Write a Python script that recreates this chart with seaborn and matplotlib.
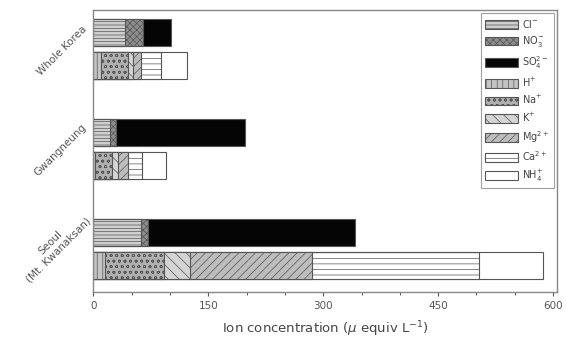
import pandas as pd
import matplotlib
matplotlib.use("Agg")
import matplotlib.pyplot as plt
import matplotlib.transforms as mtransforms
import seaborn as sns
from matplotlib.patches import Patch

# ion balance per site (ueq/L)
sites = ["Whole Korea", "Gwangneung", "Seoul\n(Mt. Kwanaksan)"]

cl = [41, 22, 62]
no3 = [24, 7, 9]
so4 = [36, 169, 270]

h = [10, 2, 15]
na = [35, 22, 77]
k = [7, 8, 34]
mg = [10, 13, 159]
ca = [26, 18, 218]
nh4 = [34, 32, 84]

anion_ions = {"Cl": cl, "NO3": no3, "SO4": so4}
cation_ions = {"H": h, "Na": na, "K": k, "Mg": mg, "Ca": ca, "NH4": nh4}

labels = {
    "Cl": r"Cl$^{-}$", "NO3": r"NO$_3^{-}$", "SO4": r"SO$_4^{2-}$",
    "H": r"H$^{+}$", "Na": r"Na$^{+}$", "K": r"K$^{+}$",
    "Mg": r"Mg$^{2+}$", "Ca": r"Ca$^{2+}$", "NH4": r"NH$_4^{+}$",
}
styles = {
    "Cl":  ("#cfcfcf", "-----"),
    "NO3": ("#8c8c8c", "xxxxx"),
    "SO4": ("#050505", ""),
    "H":   ("#c4c4c4", "|||"),
    "Na":  ("#b0b0b0", "ooo"),
    "K":   ("#d4d4d4", "\\\\\\"),
    "Mg":  ("#bdbdbd", "////"),
    "Ca":  ("#ffffff", "---"),
    "NH4": ("#ffffff", ""),
}

rows = []
for kind, ions in [("anion", anion_ions), ("cation", cation_ions)]:
    for i, site in enumerate(sites):
        total = 0
        for ion, vals in ions.items():
            total += vals[i]
            rows.append({"site": site, "kind": kind, "ion": ion, "cum": total})
df = pd.DataFrame(rows)

plt.rcParams["hatch.linewidth"] = 0.5
plt.rcParams["font.family"] = ["DejaVu Sans"]

fig = plt.figure(figsize=(5.66, 3.42), dpi=100)
ax = fig.add_axes([0.165, 0.146, 0.819, 0.825])

# stacked bars: draw cumulative totals from the outermost ion inwards
for kind, ions in [("anion", anion_ions), ("cation", cation_ions)]:
    for ion in reversed(list(ions)):
        color, hatch = styles[ion]
        n_before = len(ax.patches)
        sns.barplot(
            data=df[(df.kind == kind) & (df.ion == ion)],
            y="site", x="cum", hue="kind", hue_order=["anion", "cation"],
            order=sites, orient="h", dodge=True, width=0.65, gap=0.17,
            palette={"anion": color, "cation": color}, saturation=1,
            errorbar=None, legend=False, ax=ax,
            edgecolor="#555555", linewidth=0.8,
        )
        for p in ax.patches[n_before:]:
            p.set_hatch(hatch)

ax.set_xlim(0, 605)
ax.set_ylim(2.43, -0.39)
ax.set_xticks([0, 150, 300, 450, 600])
ax.set_xticks(range(50, 600, 50), minor=True)
ax.tick_params(axis="x", colors="#555555", labelsize=7.5, length=3, width=0.8)
ax.tick_params(axis="x", which="minor", length=2, width=0.7, color="#555555")
ax.tick_params(axis="y", colors="#555555", labelsize=7.5, length=0, pad=6)
ax.set_yticks(range(len(sites)))
ax.set_yticklabels(sites, rotation=45, ha="right", va="center",
                   rotation_mode="anchor", multialignment="center")
# labels sit a bit above the bar pair in the original
for lab, dy in zip(ax.get_yticklabels(), [15, 17, 24]):
    lab.set_transform(lab.get_transform() +
                      mtransforms.ScaledTranslation(0, dy / 72, fig.dpi_scale_trans))
ax.set_ylabel("")
ax.set_xlabel(r"Ion concentration ($\mu$ equiv L$^{-1}$)", fontsize=9.5,
              color="#444444", labelpad=6)
for s in ax.spines.values():
    s.set_color("#888888")
    s.set_linewidth(1)

handles = [Patch(facecolor=styles[i][0], hatch=styles[i][1], edgecolor="#555555",
                 linewidth=0.8, label=labels[i])
           for i in list(anion_ions) + list(cation_ions)]
leg = ax.legend(handles=handles, loc="upper right", fontsize=7, frameon=True,
                fancybox=False, edgecolor="#888888", handlelength=3.4,
                handleheight=1.0, labelspacing=0.48, borderpad=0.45,
                handletextpad=0.4, borderaxespad=0.35, labelcolor="#444444")
leg.get_frame().set_linewidth(0.8)

fig.savefig("out.png", dpi=100)
